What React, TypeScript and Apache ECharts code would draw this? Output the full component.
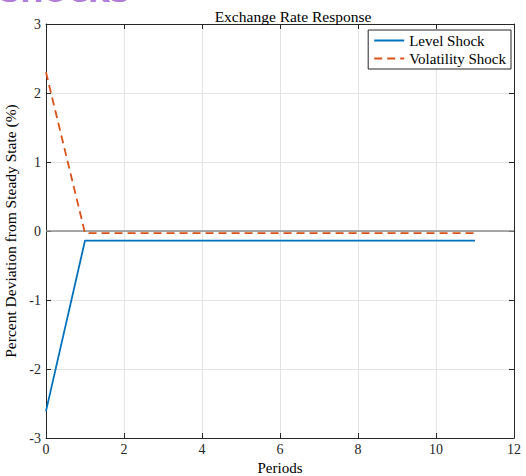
import React, { useEffect, useRef } from "react";
import * as echarts from "echarts";

const periods = [0, 1, 2, 3, 4, 5, 6, 7, 8, 9, 10, 11];
const levelShock = [-2.61, -0.14, -0.14, -0.14, -0.14, -0.14, -0.14, -0.14, -0.14, -0.14, -0.14, -0.14];
const volatilityShock = [2.3, -0.03, -0.03, -0.03, -0.03, -0.03, -0.03, -0.03, -0.03, -0.03, -0.03, -0.03];
const seriesNames = ["Level Shock", "Volatility Shock"];

const FONT = "Liberation Serif";

export default function App() {
  const ref = useRef<HTMLDivElement>(null);
  useEffect(() => {
    document.body.style.margin = "0";
    const chart = echarts.init(ref.current!, null, { renderer: "svg" });
    const axisLine = { show: true, onZero: false, lineStyle: { color: "#262626", width: 1 } };
    const tick = { show: true, inside: true, length: 5, lineStyle: { color: "#262626" } };
    chart.setOption({
      animation: false,
      backgroundColor: "#fff",
      title: {
        text: "Exchange Rate Response",
        left: 288,
        top: 3,
        textAlign: "center",
        textStyle: { fontFamily: FONT, fontSize: 15.5, fontWeight: "normal", color: "#000" },
      },
      graphic: [
        {
          type: "text",
          left: 0,
          top: -22,
          style: { text: "SHOCKS", fontFamily: "DejaVu Sans", fontSize: 28, fontWeight: "bold", fill: "#9b59d0", opacity: 0.8 },
        },
      ],
      legend: {
        orient: "vertical",
        right: 15,
        top: 30,
        backgroundColor: "#fff",
        borderColor: "#262626",
        borderWidth: 1,
        borderRadius: 0,
        padding: [3, 5, 3, 5],
        itemGap: 3,
        itemWidth: 30,
        itemHeight: 12,
        itemStyle: { opacity: 0 },
        textStyle: { fontFamily: FONT, fontSize: 15, color: "#000" },
        data: seriesNames,
      },
      grid: { left: 46, right: 12, top: 24, bottom: 38, outerBoundsMode: "none", containLabel: false },
      xAxis: [
        {
          type: "value",
          min: 0,
          max: 12,
          interval: 2,
          name: "Periods",
          nameLocation: "middle",
          nameGap: 20,
          nameTextStyle: { fontFamily: FONT, fontSize: 15, color: "#000" },
          axisLine,
          axisTick: tick,
          axisLabel: { fontFamily: FONT, fontSize: 14, color: "#262626", margin: 4 },
          splitLine: { show: true, lineStyle: { color: "#e3e3e3", width: 1 } },
        },
        {
          type: "value",
          position: "top",
          min: 0,
          max: 12,
          interval: 2,
          axisLine,
          axisTick: tick,
          axisLabel: { show: false },
          splitLine: { show: false },
        },
      ],
      yAxis: [
        {
          type: "value",
          min: -3,
          max: 3,
          interval: 1,
          name: "Percent Deviation from Steady State (%)",
          nameLocation: "middle",
          nameGap: 25,
          nameTextStyle: { fontFamily: FONT, fontSize: 15.5, color: "#000" },
          axisLine,
          axisTick: tick,
          axisLabel: { fontFamily: FONT, fontSize: 14, color: "#262626", margin: 5 },
          splitLine: { show: true, lineStyle: { color: "#e3e3e3", width: 1 } },
        },
        {
          type: "value",
          position: "right",
          min: -3,
          max: 3,
          interval: 1,
          axisLine,
          axisTick: tick,
          axisLabel: { show: false },
          splitLine: { show: false },
        },
      ],
      series: [
        {
          name: seriesNames[0],
          type: "line",
          data: periods.map((p, i) => [p, levelShock[i]]),
          showSymbol: false,
          symbol: "none",
          lineStyle: { color: "#0072BD", width: 1.8 },
          itemStyle: { color: "#0072BD" },
          z: 3,
          markLine: {
            silent: true,
            symbol: "none",
            label: { show: false },
            lineStyle: { color: "#8c8c8c", width: 1.5, type: "solid" },
            data: [{ yAxis: 0 }],
            z: 1,
          },
        },
        {
          name: seriesNames[1],
          type: "line",
          data: periods.map((p, i) => [p, volatilityShock[i]]),
          showSymbol: false,
          symbol: "none",
          lineStyle: { color: "#D95319", width: 1.8, type: [8, 5] },
          itemStyle: { color: "#D95319" },
          z: 4,
        },
      ],
    });
    return () => chart.dispose();
  }, []);
  return <div ref={ref} style={{ width: 526, height: 476 }} />;
}
